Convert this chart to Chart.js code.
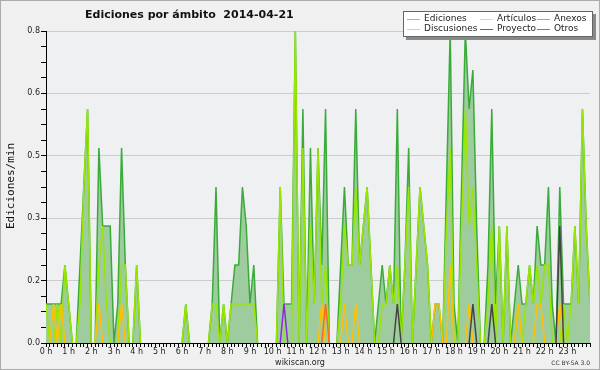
<!DOCTYPE html>
<html>
<head>
<meta charset="utf-8">
<script src="https://cdn.jsdelivr.net/npm/chart.js@4/dist/chart.umd.min.js"></script>
<style>
  html, body { margin: 0; padding: 0; background: #f0f0f0; }
  #wrap { width: 600px; height: 370px; }
</style>
</head>
<body>
<div id="wrap"><canvas id="chart" width="600" height="370"></canvas></div>
<script>
// Edits per minute, one value per 10-minute bin (0 h .. 24 h)
const ediciones = [
  0.1, 0.1, 0.1, 0.1, 0.1, 0.2, 0.1, 0, 0, 0.2, 0.4, 0.6,
  0, 0, 0.5, 0.3, 0.3, 0.3, 0, 0.1, 0.5, 0.2, 0, 0,
  0.2, 0, 0, 0, 0, 0, 0, 0, 0, 0, 0, 0,
  0, 0.1, 0, 0, 0, 0, 0, 0, 0.1, 0.4, 0, 0.1,
  0, 0.1, 0.2, 0.2, 0.4, 0.3, 0.1, 0.2, 0, 0, 0, 0,
  0, 0, 0.4, 0.1, 0.1, 0.1, 0.8, 0, 0.6, 0, 0.5, 0.1,
  0.5, 0.2, 0.6, 0, 0, 0, 0.2, 0.4, 0.2, 0.2, 0.6, 0.2,
  0.3, 0.4, 0.2, 0, 0.1, 0.2, 0.1, 0.2, 0.1, 0.6, 0, 0.2,
  0.5, 0, 0.2, 0.4, 0.3, 0.2, 0, 0.1, 0.1, 0, 0.4, 0.8,
  0.1, 0, 0.4, 0.8, 0.6, 0.7, 0.3, 0, 0, 0.2, 0.6, 0.1,
  0.3, 0, 0.3, 0, 0.1, 0.2, 0.1, 0.1, 0.2, 0.1, 0.3, 0.2,
  0.2, 0.4, 0.1, 0, 0.4, 0.1, 0.1, 0.1, 0.3, 0.1, 0.6, 0.3,
  0.1
];
const articulos = [
  0.1, 0, 0, 0.1, 0, 0.2, 0.1, 0, 0, 0.1, 0.4, 0.6,
  0, 0, 0.2, 0.3, 0.1, 0, 0, 0, 0.2, 0.2, 0, 0,
  0.2, 0, 0, 0, 0, 0, 0, 0, 0, 0, 0, 0,
  0, 0.1, 0, 0, 0, 0, 0, 0, 0.1, 0.1, 0, 0.1,
  0, 0.1, 0.1, 0.1, 0.1, 0.1, 0.1, 0.1, 0, 0, 0, 0,
  0, 0, 0.4, 0, 0, 0, 0.8, 0, 0.5, 0, 0.3, 0.1,
  0.5, 0.1, 0.2, 0, 0, 0, 0.1, 0.3, 0.2, 0.2, 0.4, 0.2,
  0.3, 0.4, 0.2, 0, 0, 0.1, 0.1, 0.2, 0.1, 0.2, 0, 0.2,
  0.4, 0, 0.2, 0.4, 0.3, 0.2, 0, 0, 0, 0, 0.3, 0.5,
  0, 0, 0.3, 0.6, 0.3, 0.4, 0.2, 0, 0, 0.1, 0.3, 0,
  0.3, 0, 0.3, 0, 0, 0.1, 0, 0.1, 0.2, 0.1, 0.2, 0.1,
  0.2, 0.2, 0, 0, 0, 0.1, 0, 0.1, 0.3, 0.1, 0.6, 0.3,
  0.1
];
const discusiones = [
  0, 0, 0.1, 0, 0.1, 0, 0, 0, 0, 0, 0, 0,
  0, 0, 0.1, 0, 0, 0, 0, 0, 0.1, 0, 0, 0,
  0, 0, 0, 0, 0, 0, 0, 0, 0, 0, 0, 0,
  0, 0, 0, 0, 0, 0, 0, 0, 0, 0, 0, 0,
  0, 0, 0, 0, 0, 0, 0, 0, 0, 0, 0, 0,
  0, 0, 0, 0, 0, 0, 0, 0, 0, 0, 0, 0,
  0, 0.1, 0, 0, 0, 0, 0, 0.1, 0, 0, 0.1, 0,
  0, 0, 0, 0, 0, 0, 0, 0, 0, 0, 0, 0,
  0, 0, 0, 0, 0, 0, 0, 0.1, 0.1, 0, 0, 0.2,
  0, 0, 0, 0, 0.1, 0, 0, 0, 0, 0, 0, 0,
  0, 0, 0, 0, 0, 0.1, 0, 0, 0, 0, 0.1, 0.1,
  0, 0, 0, 0, 0.1, 0, 0, 0, 0, 0, 0, 0,
  0
];
const anexos = [
  0, 0, 0, 0, 0, 0, 0, 0, 0, 0, 0, 0,
  0, 0, 0, 0, 0, 0, 0, 0, 0, 0, 0, 0,
  0, 0, 0, 0, 0, 0, 0, 0, 0, 0, 0, 0,
  0, 0, 0, 0, 0, 0, 0, 0, 0, 0, 0, 0,
  0, 0, 0, 0, 0, 0, 0, 0, 0, 0, 0, 0,
  0, 0, 0, 0, 0, 0, 0, 0, 0, 0, 0, 0,
  0, 0, 0.1, 0, 0, 0, 0, 0, 0, 0, 0, 0,
  0, 0, 0, 0, 0, 0, 0, 0, 0, 0, 0, 0,
  0, 0, 0, 0, 0, 0, 0, 0, 0, 0, 0, 0,
  0, 0, 0, 0, 0, 0, 0, 0, 0, 0, 0, 0,
  0, 0, 0, 0, 0, 0, 0, 0, 0, 0, 0, 0,
  0, 0, 0, 0, 0, 0, 0, 0, 0, 0, 0, 0,
  0
];
const proyecto = [
  0, 0, 0, 0, 0, 0, 0, 0, 0, 0, 0, 0,
  0, 0, 0, 0, 0, 0, 0, 0, 0, 0, 0, 0,
  0, 0, 0, 0, 0, 0, 0, 0, 0, 0, 0, 0,
  0, 0, 0, 0, 0, 0, 0, 0, 0, 0, 0, 0,
  0, 0, 0, 0, 0, 0, 0, 0, 0, 0, 0, 0,
  0, 0, 0, 0, 0, 0, 0, 0, 0, 0, 0, 0,
  0, 0, 0, 0, 0, 0, 0, 0, 0, 0, 0, 0,
  0, 0, 0, 0, 0, 0, 0, 0, 0, 0.1, 0, 0,
  0, 0, 0, 0, 0, 0, 0, 0, 0, 0, 0, 0,
  0, 0, 0, 0, 0, 0.1, 0, 0, 0, 0, 0.1, 0,
  0, 0, 0, 0, 0, 0, 0, 0, 0, 0, 0, 0,
  0, 0, 0, 0, 0.3, 0, 0, 0, 0, 0, 0, 0,
  0
];
const otros = [
  0, 0, 0, 0, 0, 0, 0, 0, 0, 0, 0, 0,
  0, 0, 0, 0, 0, 0, 0, 0, 0, 0, 0, 0,
  0, 0, 0, 0, 0, 0, 0, 0, 0, 0, 0, 0,
  0, 0, 0, 0, 0, 0, 0, 0, 0, 0, 0, 0,
  0, 0, 0, 0, 0, 0, 0, 0, 0, 0, 0, 0,
  0, 0, 0, 0.1, 0, 0, 0, 0, 0, 0, 0, 0,
  0, 0, 0, 0, 0, 0, 0, 0, 0, 0, 0, 0,
  0, 0, 0, 0, 0, 0, 0, 0, 0, 0, 0, 0,
  0, 0, 0, 0, 0, 0, 0, 0, 0, 0, 0, 0,
  0, 0, 0, 0, 0, 0, 0, 0, 0, 0, 0, 0,
  0, 0, 0, 0, 0, 0, 0, 0, 0, 0, 0, 0,
  0, 0, 0, 0, 0, 0, 0, 0, 0, 0, 0, 0,
  0
];

// Tick labels
const hourLabels = ['0 h', '1 h', '2 h', '3 h', '4 h', '5 h', '6 h', '7 h', '8 h', '9 h', '10 h', '11 h',
  '12 h', '13 h', '14 h', '15 h', '16 h', '17 h', '18 h', '19 h', '20 h', '21 h', '22 h', '23 h'];
const yTickLabels = ['0.0', '0.2', '0.3', '0.5', '0.6', '0.8'];

const seriesNames = ['Ediciones', 'Artículos', 'Anexos', 'Discusiones', 'Proyecto', 'Otros'];
const seriesValues = [ediciones, articulos, anexos, discusiones, proyecto, otros];
const lineColors = ['#3aab3a', '#99e600', '#ff6a1a', '#ffc000', '#444444', '#8a2be2'];
const legendColors = ['#88cc88', '#ccee66', '#ff8855', '#ffcc44', '#666666', '#9955ee'];
const drawOrder = [10, 5, 3, 4, 2, 1];

const BINS_PER_HOUR = 6;

// hide segments that lie flat on the zero line
function segColor(color) {
  return c => (c.p0.parsed.y === 0 && c.p1.parsed.y === 0) ? 'rgba(0,0,0,0)' : color;
}

const datasets = seriesValues.map((vals, k) => ({
  label: seriesNames[k],
  data: vals.map((v, i) => ({ x: i, y: v })),
  borderColor: lineColors[k],
  borderWidth: 1.5,
  backgroundColor: k === 0 ? '#9fcc9f' : 'rgba(0,0,0,0)',
  fill: k === 0 ? 'origin' : false,
  pointRadius: 0,
  tension: 0,
  order: drawOrder[k],
  segment: { borderColor: segColor(lineColors[k]) }
}));

// backgrounds, title, legend box and footer texts
const decor = {
  id: 'decor',
  beforeDraw(chart) {
    const { ctx, chartArea: a, width, height } = chart;
    ctx.save();
    ctx.fillStyle = '#f0f0f0';
    ctx.fillRect(0, 0, width, height);
    ctx.fillStyle = '#eef0f2';
    ctx.fillRect(a.left, a.top, a.right - a.left, a.bottom - a.top);
    ctx.restore();
  },
  afterDraw(chart) {
    const { ctx, width, height } = chart;
    ctx.save();
    // title
    ctx.fillStyle = '#111';
    ctx.font = 'bold 11px "DejaVu Sans"';
    ctx.textBaseline = 'alphabetic';
    ctx.textAlign = 'left';
    ctx.fillText('Ediciones por ámbito  2014-04-21', 85, 18);

    // y axis title
    ctx.save();
    ctx.translate(14, 186);
    ctx.rotate(-Math.PI / 2);
    ctx.textAlign = 'center';
    ctx.font = '11px "DejaVu Sans Mono"';
    ctx.fillText('Ediciones/min', 0, 0);
    ctx.restore();

    // footer
    ctx.font = '8px "DejaVu Sans"';
    ctx.textAlign = 'center';
    ctx.fillStyle = '#222';
    ctx.fillText('wikiscan.org', 300, 365);
    ctx.font = '6px "DejaVu Sans"';
    ctx.textAlign = 'right';
    ctx.fillStyle = '#333';
    ctx.fillText('CC BY-SA 3.0', 590, 365);

    // legend box
    const bx = 403, by = 11, bw = 190, bh = 26;
    ctx.fillStyle = '#888';
    ctx.fillRect(bx + 3, by + 3, bw, bh);
    ctx.fillStyle = '#fff';
    ctx.fillRect(bx, by, bw, bh);
    ctx.strokeStyle = '#666';
    ctx.lineWidth = 1;
    ctx.strokeRect(bx + 0.5, by + 0.5, bw - 1, bh - 1);

    const legendOrder = [0, 1, 2, 3, 4, 5];
    const colX = [407, 480, 537];
    const rowY = [19, 29];
    ctx.font = '9px "DejaVu Sans"';
    ctx.textAlign = 'left';
    ctx.textBaseline = 'middle';
    legendOrder.forEach((k, n) => {
      const x = colX[n % 3], y = rowY[Math.floor(n / 3)];
      ctx.strokeStyle = legendColors[k];
      ctx.beginPath();
      ctx.moveTo(x, y + 0.5);
      ctx.lineTo(x + 13, y + 0.5);
      ctx.stroke();
      ctx.fillStyle = '#222';
      ctx.fillText(seriesNames[k], x + 17, y);
    });

    // outer frame
    ctx.strokeStyle = '#aaa';
    ctx.strokeRect(0.5, 0.5, width - 1, height - 1);
    ctx.restore();
  }
};

new Chart(document.getElementById('chart'), {
  type: 'line',
  data: { datasets },
  options: {
    responsive: false,
    animation: false,
    layout: { padding: { left: 0, right: 10, top: 31, bottom: 0 } },
    plugins: { legend: { display: false }, title: { display: false }, tooltip: { enabled: false } },
    scales: {
      x: {
        type: 'linear',
        min: 0,
        max: hourLabels.length * BINS_PER_HOUR,
        afterFit: s => { s.height = 27; },
        ticks: {
          stepSize: 1,
          autoSkip: false,
          maxRotation: 0,
          padding: 0,
          color: '#222',
          font: { family: 'DejaVu Sans', size: 8 },
          callback: v => (v % BINS_PER_HOUR === 0 && v / BINS_PER_HOUR < hourLabels.length) ? hourLabels[v / BINS_PER_HOUR] : ''
        },
        grid: { drawOnChartArea: false, tickLength: 4, tickColor: '#000' },
        border: { color: '#000' }
      },
      y: {
        min: 0,
        max: 0.8,
        afterFit: s => { s.width = 46; },
        ticks: {
          stepSize: 0.04,
          autoSkip: false,
          padding: 1,
          color: '#222',
          font: { family: 'DejaVu Sans', size: 8 },
          callback: (v, i) => i % 4 === 0 ? yTickLabels[i / 4] : ''
        },
        grid: {
          color: c => c.index % 4 === 0 ? '#cccccc' : 'rgba(0,0,0,0)',
          tickColor: '#000',
          tickLength: 5
        },
        border: { color: '#000' }
      }
    }
  },
  plugins: [decor]
});
</script>
</body>
</html>
